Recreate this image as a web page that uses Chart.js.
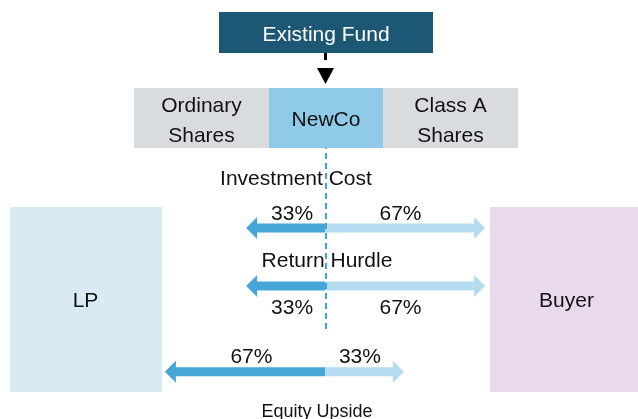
<!DOCTYPE html>
<html>
<head>
<meta charset="utf-8">
<script src="https://cdn.jsdelivr.net/npm/chart.js@4.4.1/dist/chart.umd.min.js"></script>
<style>
  html, body { margin: 0; padding: 0; background: #fff; }
  #wrap { width: 638px; height: 419px; position: relative; }
</style>
</head>
<body>
<div id="wrap"><canvas id="split-chart"></canvas></div>
<script>
// waterfall tiers, top to bottom
const tiers = ["Investment Cost", "Return Hurdle", "Equity Upside"];
// share of each tier (%) going to the LP (left) and to the buyer (right)
const lpShare = [33, 33, 67];
const buyerShare = [67, 67, 33];

// layout only
const tierRow = [0, 1, 2.48];
const labelSide = [-1, 1, -1]; // percent labels above (-1) or below (1)
const tierTitle = [
  { dx: -29, dy: -51, size: 21 },
  { dx: 2, dy: -26.5, size: 21 },
  { dx: -8, dy: 39, size: 18 },
];

const FONT = '"Liberation Sans", Arial, sans-serif';
const INK = "#111";
const FS = 21;
const HEAD_LEN = 11;
const HEAD_H = 22;

function text(c, str, x, capMid, size, color) {
  c.font = size + "px " + FONT;
  c.fillStyle = color || INK;
  c.textAlign = "center";
  c.textBaseline = "alphabetic";
  c.fillText(str, x, capMid + 0.358 * size);
}

function box(c, x, y, w, h, fill) {
  c.fillStyle = fill;
  c.fillRect(x, y, w, h);
}

function arrow(c, inner, outer, y, shaft, color) {
  const dir = Math.sign(outer - inner);
  const neck = outer - dir * HEAD_LEN;
  c.fillStyle = color;
  c.beginPath();
  c.moveTo(inner, y - shaft / 2);
  c.lineTo(neck, y - shaft / 2);
  c.lineTo(neck, y - HEAD_H / 2);
  c.lineTo(outer, y);
  c.lineTo(neck, y + HEAD_H / 2);
  c.lineTo(neck, y + shaft / 2);
  c.lineTo(inner, y + shaft / 2);
  c.closePath();
  c.fill();
  return neck;
}

const diagram = {
  id: "diagram",
  beforeDatasetsDraw(chart) {
    const c = chart.ctx;
    c.save();
    // Existing Fund
    box(c, 219, 12, 214, 41, "#1c5774");
    text(c, "Existing Fund", 326, 33.5, FS, "#fff");
    // connector
    c.strokeStyle = "#000";
    c.lineWidth = 3;
    c.beginPath();
    c.moveTo(325.5, 53);
    c.lineTo(325.5, 60);
    c.stroke();
    c.fillStyle = "#000";
    c.beginPath();
    c.moveTo(317, 68);
    c.lineTo(334, 68);
    c.lineTo(325.5, 84);
    c.closePath();
    c.fill();
    // share classes
    box(c, 134, 88, 135, 60, "#d9dcdf");
    box(c, 269, 88, 114, 60, "#8fcae7");
    box(c, 383, 88, 135, 60, "#d9dcdf");
    text(c, "Ordinary", 201.5, 104.5, FS);
    text(c, "Shares", 201.5, 134, FS);
    text(c, "NewCo", 326, 118, FS);
    text(c, "Class A", 450.5, 104.5, FS);
    text(c, "Shares", 450.5, 134, FS);
    // parties
    box(c, 10, 207, 152, 185, "#d8ebf5");
    box(c, 490, 207, 148, 185, "#e9d9ec");
    text(c, "LP", 85.5, 299.5, FS);
    text(c, "Buyer", 566.5, 299.5, FS);
    c.restore();
  },
  afterDatasetsDraw(chart) {
    const c = chart.ctx;
    const xs = chart.scales.x;
    const ys = chart.scales.y;
    const zero = xs.getPixelForValue(0);
    c.save();
    chart.data.datasets.forEach((ds, i) => {
      const meta = chart.getDatasetMeta(i);
      meta.data.forEach((bar, j) => {
        const p = bar.getProps(["x", "y", "base", "height"], true);
        const outer = Math.abs(p.x - zero) > Math.abs(p.base - zero) ? p.x : p.base;
        const neck = arrow(c, zero, outer, p.y, p.height, ds.arrowColor);
        const off = labelSide[j] < 0 ? -16 : 20.5;
        text(c, ds.values[j] + "%", (zero + neck) / 2 + 1, p.y + off, FS);
      });
    });
    tiers.forEach((t, j) => {
      const cfg = tierTitle[j];
      text(c, t, zero + cfg.dx, ys.getPixelForValue(tierRow[j]) + cfg.dy, cfg.size);
    });
    // NewCo split line
    c.strokeStyle = "#3fa3dc";
    c.lineWidth = 2;
    c.setLineDash([6, 4]);
    c.lineDashOffset = 5;
    c.beginPath();
    c.moveTo(zero + 1, 148);
    c.lineTo(zero + 1, 330);
    c.stroke();
    c.restore();
  },
};

const ctx = document.getElementById("split-chart");

const chart = new Chart(ctx, {
  type: "bar",
  data: {
    labels: tiers,
    datasets: [
      {
        label: "LP",
        values: lpShare,
        data: lpShare.map((v, i) => ({ x: [-v, 0], y: tierRow[i] })),
        backgroundColor: "rgba(0,0,0,0)",
        arrowColor: "rgb(70,166,216)",
      },
      {
        label: "Buyer",
        values: buyerShare,
        data: buyerShare.map((v, i) => ({ x: [0, v], y: tierRow[i] })),
        backgroundColor: "rgba(0,0,0,0)",
        arrowColor: "rgb(180,219,240)",
      },
    ],
  },
  options: {
    indexAxis: "y",
    responsive: true,
    maintainAspectRatio: false,
    animation: false,
    events: [],
    grouped: false,
    barThickness: 9,
    layout: { padding: 0 },
    scales: {
      x: { type: "linear", min: -136, max: 131, display: false, offset: false },
      y: { type: "linear", min: -3.931, max: 3.293, reverse: true, display: false, offset: false },
    },
    plugins: {
      legend: { display: false },
      tooltip: { enabled: false },
    },
  },
  plugins: [diagram],
});
</script>
</body>
</html>
